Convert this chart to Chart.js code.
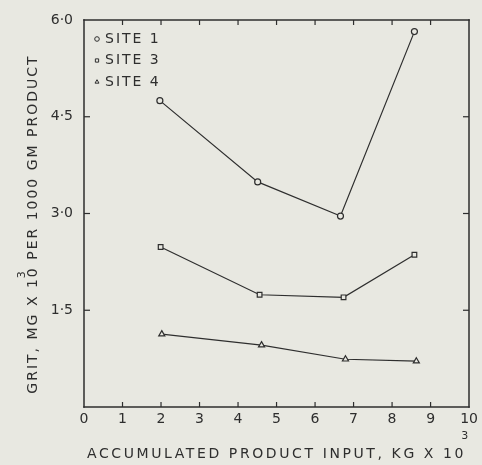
<!DOCTYPE html>
<html>
<head>
<meta charset="utf-8">
<script src="https://cdn.jsdelivr.net/npm/chart.js@4.4.1/dist/chart.umd.min.js"></script>
<style>
  html, body { margin: 0; padding: 0; background: #e8e8e1; }
  #wrap { width: 482px; height: 465px; position: relative; }
</style>
</head>
<body>
<div id="wrap"><canvas id="chart"></canvas></div>
<script>
// Data
const siteLabels = ['SITE 1', 'SITE 3', 'SITE 4'];
const site1X = [1.97, 4.51, 6.66, 8.58];
const site1Y = [4.75, 3.49, 2.96, 5.82];
const site3X = [1.99, 4.56, 6.74, 8.58];
const site3Y = [2.48, 1.74, 1.70, 2.36];
const site4X = [2.02, 4.61, 6.79, 8.63];
const site4Y = [1.13, 0.96, 0.74, 0.71];
const xTickValues = [0, 1, 2, 3, 4, 5, 6, 7, 8, 9, 10];
const yTickValues = [0, 1.5, 3.0, 4.5, 6.0];

const ink = '#2e2e2e';
const paper = '#e8e8e1';
const font = '"DejaVu Sans", sans-serif';

const toPoints = (xs, ys) => xs.map((x, i) => ({ x: x, y: ys[i] }));

function site(label, xs, ys, style, radius) {
    return {
        label: label,
        data: toPoints(xs, ys),
        showLine: true,
        tension: 0,
        borderColor: ink,
        borderWidth: 1.2,
        pointStyle: style,
        pointRadius: radius,
        pointBorderWidth: 1.2,
        pointBorderColor: ink,
        pointBackgroundColor: paper
    };
}

// Box around the plot with inward tick marks (filled thin rects)
const frame = {
    id: 'frame',
    afterDraw(chart) {
        const ctx = chart.ctx;
        const x = chart.scales.x, y = chart.scales.y;
        const left = Math.round(x.left), right = Math.round(x.right);
        const top = Math.round(y.top), bottom = Math.round(y.bottom);
        const lw = 1.5;
        ctx.save();
        ctx.fillStyle = ink;
        ctx.fillRect(left - lw / 2, top - lw / 2, right - left + lw, lw);
        ctx.fillRect(left - lw / 2, bottom - lw / 2, right - left + lw, lw);
        ctx.fillRect(left - lw / 2, top - lw / 2, lw, bottom - top + lw);
        ctx.fillRect(right - lw / 2, top - lw / 2, lw, bottom - top + lw);
        x.ticks.forEach(t => {
            if (t.value <= x.min || t.value >= x.max) return;
            const px = x.getPixelForValue(t.value);
            ctx.fillRect(px - 0.6, bottom - 5, 1.2, 5);
            ctx.fillRect(px - 0.6, top, 1.2, 5);
        });
        y.ticks.forEach(t => {
            if (t.value <= y.min || t.value >= y.max) return;
            const py = y.getPixelForValue(t.value);
            ctx.fillRect(left, py - 0.6, 6, 1.2);
            ctx.fillRect(right - 6, py - 0.6, 6, 1.2);
        });
        ctx.restore();
    }
};

// Legend inside the plot and the axis titles
const labels = {
    id: 'labels',
    afterDraw(chart) {
        const ctx = chart.ctx;
        const x = chart.scales.x;
        const left = x.left, top = chart.scales.y.top;
        ctx.save();
        ctx.fillStyle = ink;
        ctx.strokeStyle = ink;
        ctx.textBaseline = 'middle';
        ctx.textAlign = 'left';

        chart.data.datasets.forEach((ds, i) => {
            const ly = top + 19 + i * 21.5;
            ctx.lineWidth = 1;
            ctx.fillStyle = paper;
            Chart.helpers.drawPoint(ctx, {
                pointStyle: ds.pointStyle, radius: 2.3, rotation: 0, borderWidth: 1
            }, left + 13, ly);
            ctx.fillStyle = ink;
            ctx.font = '14px ' + font;
            ctx.letterSpacing = '2px';
            ctx.fillText(ds.label, left + 21, ly);
        });

        // X title
        const xt = 'ACCUMULATED PRODUCT INPUT, KG X 10';
        ctx.font = '14px ' + font;
        ctx.letterSpacing = '2.6px';
        const xw = ctx.measureText(xt).width;
        const xs = (x.left + x.right) / 2 - xw / 2;
        ctx.fillText(xt, xs, 454);
        ctx.font = '11px ' + font;
        ctx.letterSpacing = '0px';
        ctx.fillText('3', xs + xw - 5, 436);

        // Y title, rotated
        const p1 = 'GRIT, MG X 10';
        const p2 = ' PER 1000 GM PRODUCT';
        ctx.translate(33, 224);
        ctx.rotate(-Math.PI / 2);
        ctx.font = '14px ' + font;
        ctx.letterSpacing = '2px';
        const w1 = ctx.measureText(p1).width;
        const w2 = ctx.measureText(p2).width;
        const s = -(w1 + w2) / 2;
        ctx.fillText(p1, s, 0);
        ctx.fillText(p2, s + w1, 0);
        ctx.font = '11px ' + font;
        ctx.letterSpacing = '0px';
        ctx.fillText('3', s + w1 - 12, -11);
        ctx.restore();
    }
};

new Chart(document.getElementById('chart'), {
    type: 'scatter',
    data: {
        datasets: [
            site(siteLabels[0], site1X, site1Y, 'circle', 3),
            site(siteLabels[1], site3X, site3Y, 'rect', 3.3),
            site(siteLabels[2], site4X, site4Y, 'triangle', 3.5)
        ]
    },
    options: {
        responsive: true,
        maintainAspectRatio: false,
        animation: false,
        layout: { padding: { top: 20, right: 12, left: 0, bottom: 0 } },
        plugins: { legend: { display: false }, tooltip: { enabled: false } },
        scales: {
            x: {
                type: 'linear',
                min: 0, max: 10,
                afterBuildTicks: s => { s.ticks = xTickValues.map(v => ({ value: v })); },
                afterFit: s => { s.height = 58; },
                grid: { display: false, drawTicks: false },
                border: { display: false },
                ticks: {
                    color: ink, padding: 4,
                    font: { family: font, size: 14 },
                    callback: v => String(v)
                }
            },
            y: {
                type: 'linear',
                min: 0, max: 6,
                afterBuildTicks: s => { s.ticks = yTickValues.map(v => ({ value: v })); },
                afterFit: s => { s.width = 84; },
                grid: { display: false, drawTicks: false },
                border: { display: false },
                ticks: {
                    color: ink, padding: 11,
                    font: { family: font, size: 14 },
                    callback: v => v === 0 ? '' : v.toFixed(1).replace('.', '\u00b7')
                }
            }
        }
    },
    plugins: [frame, labels]
});
</script>
</body>
</html>
